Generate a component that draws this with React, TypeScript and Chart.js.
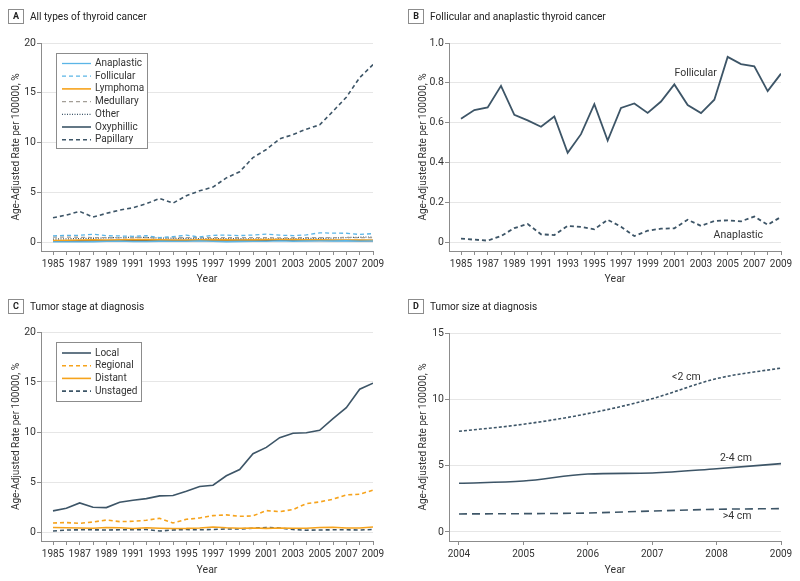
import React, { useEffect, useRef } from 'react';
import { Chart, registerables } from 'chart.js';
Chart.register(...registerables);

// ---------- DATA ----------
const years = [1985, 1986, 1987, 1988, 1989, 1990, 1991, 1992, 1993, 1994, 1995, 1996, 1997, 1998, 1999, 2000, 2001, 2002, 2003, 2004, 2005, 2006, 2007, 2008, 2009];
const yearsD = [2004, 2005, 2006, 2007, 2008, 2009];

// Panel A: all types
const anaplasticA = [0.017, 0.012, 0.007, 0.03, 0.07, 0.091, 0.039, 0.035, 0.081, 0.076, 0.064, 0.112, 0.077, 0.03, 0.057, 0.067, 0.069, 0.112, 0.081, 0.106, 0.109, 0.104, 0.128, 0.087, 0.126];
const follicularA = [0.619, 0.663, 0.676, 0.785, 0.639, 0.611, 0.579, 0.631, 0.448, 0.542, 0.693, 0.51, 0.674, 0.696, 0.649, 0.706, 0.792, 0.688, 0.648, 0.715, 0.93, 0.894, 0.883, 0.758, 0.846];
const lymphomaA = [0.15, 0.18, 0.2, 0.22, 0.2, 0.22, 0.25, 0.24, 0.22, 0.2, 0.2, 0.22, 0.24, 0.22, 0.2, 0.22, 0.24, 0.25, 0.24, 0.22, 0.22, 0.2, 0.2, 0.2, 0.18];
const medullaryA = [0.5, 0.5, 0.48, 0.45, 0.44, 0.42, 0.43, 0.45, 0.4, 0.42, 0.44, 0.43, 0.45, 0.44, 0.43, 0.45, 0.44, 0.42, 0.43, 0.44, 0.45, 0.44, 0.46, 0.44, 0.45];
const otherA = [0.3, 0.32, 0.35, 0.38, 0.42, 0.45, 0.47, 0.46, 0.4, 0.38, 0.36, 0.35, 0.34, 0.33, 0.33, 0.32, 0.32, 0.33, 0.34, 0.35, 0.37, 0.4, 0.45, 0.48, 0.5];
const oxyphillicA = [0.1, 0.1, 0.12, 0.12, 0.13, 0.13, 0.12, 0.13, 0.14, 0.14, 0.15, 0.15, 0.16, 0.16, 0.17, 0.17, 0.18, 0.18, 0.18, 0.17, 0.17, 0.16, 0.15, 0.14, 0.14];
const papillaryA = [2.44, 2.71, 3.08, 2.51, 2.88, 3.21, 3.44, 3.85, 4.38, 3.91, 4.65, 5.15, 5.52, 6.45, 7.06, 8.49, 9.3, 10.37, 10.8, 11.34, 11.77, 13.14, 14.55, 16.52, 17.83];

// Panel B: follicular and anaplastic
const follicularB = follicularA;
const anaplasticB = anaplasticA;

// Panel C: tumor stage
const localC = [2.11, 2.37, 2.91, 2.47, 2.44, 2.98, 3.18, 3.34, 3.61, 3.65, 4.08, 4.55, 4.68, 5.62, 6.25, 7.83, 8.46, 9.43, 9.87, 9.93, 10.17, 11.34, 12.44, 14.28, 14.88];
const regionalC = [0.9, 0.94, 0.87, 1.0, 1.2, 1.04, 1.07, 1.17, 1.37, 0.9, 1.27, 1.4, 1.64, 1.71, 1.57, 1.61, 2.14, 2.04, 2.24, 2.84, 3.01, 3.28, 3.71, 3.78, 4.18];
const distantC = [0.45, 0.42, 0.4, 0.38, 0.45, 0.42, 0.35, 0.42, 0.38, 0.35, 0.36, 0.4, 0.5, 0.42, 0.38, 0.4, 0.36, 0.4, 0.38, 0.38, 0.45, 0.48, 0.4, 0.4, 0.5];
const unstagedC = [0.1, 0.2, 0.22, 0.22, 0.2, 0.22, 0.22, 0.25, 0.1, 0.2, 0.25, 0.22, 0.25, 0.3, 0.3, 0.38, 0.45, 0.4, 0.25, 0.18, 0.2, 0.22, 0.22, 0.2, 0.25];

// Panel D: tumor size
const under2D = [7.59, 8.12, 8.92, 10.05, 11.56, 12.36];
const twoTo4D = [3.67, 3.84, 4.37, 4.45, 4.77, 5.15];
const over4D = [1.36, 1.38, 1.43, 1.58, 1.71, 1.76];

const yTicksA = [0, 5, 10, 15, 20];
const yTicksB = [0, 0.2, 0.4, 0.6, 0.8, 1.0];
const yTicksD = [0, 5, 10, 15];
const xLabelYears = [1985, 1987, 1989, 1991, 1993, 1995, 1997, 1999, 2001, 2003, 2005, 2007, 2009];

// ---------- STYLE ----------
const DARK = '#3d5567';
const LIGHTBLUE = '#5bb5e6';
const ORANGE = '#f6a31c';
const GRAY = '#a39e97';
const TEXT = '#333333';
const FONT = 'Roboto, "Noto Sans", sans-serif';

const boxLegend = {
  id: 'boxLegend',
  afterDraw(chart: any, _args: any, opts: any) {
    if (!opts || !opts.show) return;
    const { ctx, chartArea } = chart;
    const x = Math.round(chartArea.left + opts.dx);
    const y = Math.round(chartArea.top + opts.dy);
    ctx.save();
    ctx.fillStyle = '#ffffff';
    ctx.fillRect(x, y, opts.w, opts.h);
    ctx.strokeStyle = '#8c8c8c';
    ctx.lineWidth = 1;
    ctx.strokeRect(x + 0.5, y + 0.5, opts.w, opts.h);
    chart.data.datasets.forEach((ds: any, i: number) => {
      const cy = y + opts.first + i * opts.row;
      ctx.strokeStyle = ds.borderColor;
      ctx.lineWidth = ds.borderWidth;
      ctx.setLineDash(ds.borderDash || []);
      ctx.beginPath();
      ctx.moveTo(x + 6, cy);
      ctx.lineTo(x + 35, cy);
      ctx.stroke();
      ctx.setLineDash([]);
      ctx.fillStyle = TEXT;
      ctx.font = '10px ' + FONT;
      ctx.textBaseline = 'middle';
      ctx.textAlign = 'left';
      ctx.fillText(ds.label, x + 39, cy);
    });
    ctx.restore();
  },
};

const dataLabels = {
  id: 'dataLabels',
  afterDraw(chart: any, _args: any, opts: any) {
    if (!opts || !opts.items) return;
    const { ctx } = chart;
    const xs = chart.scales.x, ys = chart.scales.y;
    ctx.save();
    ctx.fillStyle = TEXT;
    ctx.font = '10.5px ' + FONT;
    ctx.textAlign = 'center';
    ctx.textBaseline = 'middle';
    opts.items.forEach((it: any) => {
      ctx.fillText(it.text, xs.getPixelForValue(it.x), ys.getPixelForValue(it.y));
    });
    ctx.restore();
  },
};

type PanelCfg = {
  labels: number[];
  datasets: any[];
  xMin: number; xMax: number; xTicks: number[]; xShown: number[];
  yMin: number; yMax: number; yTicks: number[];
  yFmt: (v: number) => string;
  yWidth: number; xHeight: number;
  pad: { top: number; right: number };
  yTitlePad: number;
  legend?: any; labelsOn?: any;
};

function buildConfig(c: PanelCfg): any {
  return {
    type: 'line',
    data: {
      datasets: c.datasets.map((d) => ({
        ...d,
        data: d.values.map((v: number, i: number) => ({ x: c.labels[i], y: v })),
        pointRadius: 0,
        fill: false,
      })),
    },
    options: {
      responsive: false,
      animation: false,
      layout: { padding: { top: c.pad.top, right: c.pad.right, left: 0, bottom: 0 } },
      plugins: {
        legend: { display: false },
        tooltip: { enabled: false },
        boxLegend: c.legend || { show: false },
        dataLabels: c.labelsOn || {},
      },
      scales: {
        x: {
          type: 'linear',
          min: c.xMin,
          max: c.xMax,
          afterBuildTicks: (s: any) => { s.ticks = c.xTicks.map((v) => ({ value: v })); },
          afterFit: (s: any) => { s.height = c.xHeight; },
          grid: { drawOnChartArea: false, drawTicks: true, tickLength: 4, tickColor: '#8c8c8c' },
          border: { color: '#8c8c8c', width: 1 },
          ticks: {
            autoSkip: false,
            maxRotation: 0,
            padding: 3,
            color: TEXT,
            font: { family: FONT, size: 10 },
            callback: (v: number) => (c.xShown.includes(v) ? String(v) : ''),
          },
          title: { display: true, text: 'Year', color: TEXT, font: { family: FONT, size: 10.5 }, padding: { top: 0, bottom: 4 } },
        },
        y: {
          type: 'linear',
          min: c.yMin,
          max: c.yMax,
          afterBuildTicks: (s: any) => { s.ticks = c.yTicks.map((v) => ({ value: v })); },
          afterFit: (s: any) => { s.width = c.yWidth; },
          grid: { color: '#e6e6e6', tickColor: '#8c8c8c', tickLength: 4, drawTicks: true },
          border: { color: '#8c8c8c', width: 1 },
          ticks: {
            padding: 1,
            color: TEXT,
            font: { family: FONT, size: 10.5 },
            callback: (v: number) => c.yFmt(v),
          },
          title: {
            display: true,
            text: 'Age-Adjusted Rate per 100000, %',
            color: TEXT,
            font: { family: FONT, size: 10 },
            padding: { top: c.yTitlePad, bottom: 0 },
          },
        },
      },
    },
    plugins: [boxLegend, dataLabels],
  };
}

function Panel({ cfg, left, top, width, height, letter, title }: any) {
  const ref = useRef<HTMLCanvasElement>(null);
  useEffect(() => {
    if (!ref.current) return;
    const chart = new Chart(ref.current, buildConfig(cfg));
    return () => chart.destroy();
  }, []);
  return (
    <div style={{ position: 'absolute', left, top, width, height }}>
      <canvas ref={ref} width={width} height={height} style={{ position: 'absolute', left: 0, top: 0, width, height }} />
      <div style={{
        position: 'absolute', left: 8, top: 9, width: 14, height: 13, border: '1px solid #8c8c8c',
        fontFamily: FONT, fontWeight: 700, fontSize: 9, lineHeight: '13px', textAlign: 'center', color: '#222',
      }}>{letter}</div>
      <div style={{
        position: 'absolute', left: 30, top: 8, fontFamily: FONT, fontSize: 11.5, lineHeight: '16px', color: '#222',
        whiteSpace: 'nowrap', transform: 'scaleX(0.88)', transformOrigin: 'left center',
      }}>{title}</div>
    </div>
  );
}

const yearFmt = (v: number) => String(v);

const cfgA: PanelCfg = {
  labels: years,
  datasets: [
    { label: 'Anaplastic', values: anaplasticA, borderColor: LIGHTBLUE, borderWidth: 1.3 },
    { label: 'Follicular', values: follicularA, borderColor: LIGHTBLUE, borderWidth: 1.3, borderDash: [4, 3] },
    { label: 'Lymphoma', values: lymphomaA, borderColor: ORANGE, borderWidth: 1.6 },
    { label: 'Medullary', values: medullaryA, borderColor: GRAY, borderWidth: 1.3, borderDash: [4, 3] },
    { label: 'Other', values: otherA, borderColor: DARK, borderWidth: 1.3, borderDash: [1, 1.5] },
    { label: 'Oxyphillic', values: oxyphillicA, borderColor: DARK, borderWidth: 1.6 },
    { label: 'Papillary', values: papillaryA, borderColor: DARK, borderWidth: 1.6, borderDash: [4, 3] },
  ],
  xMin: 1984.1, xMax: 2009, xTicks: years, xShown: xLabelYears,
  yMin: -0.9, yMax: 20, yTicks: yTicksA, yFmt: yearFmt,
  yWidth: 41, xHeight: 39, pad: { top: 43, right: 27 }, yTitlePad: 10,
  legend: { show: true, dx: 15, dy: 10, w: 91, h: 95, first: 10.5, row: 12.7 },
};

const cfgB: PanelCfg = {
  labels: years,
  datasets: [
    { label: 'Follicular', values: follicularB, borderColor: DARK, borderWidth: 1.8 },
    { label: 'Anaplastic', values: anaplasticB, borderColor: DARK, borderWidth: 1.8, borderDash: [4, 3] },
  ],
  xMin: 1984.1, xMax: 2009, xTicks: years, xShown: xLabelYears,
  yMin: -0.045, yMax: 1.0, yTicks: yTicksB, yFmt: (v: number) => (v === 0 ? '0' : v.toFixed(1)),
  yWidth: 49, xHeight: 39, pad: { top: 43, right: 19 }, yTitlePad: 17,
  labelsOn: { items: [{ text: 'Follicular', x: 2002.6, y: 0.845 }, { text: 'Anaplastic', x: 2005.8, y: 0.035 }] },
};

const cfgC: PanelCfg = {
  labels: years,
  datasets: [
    { label: 'Local', values: localC, borderColor: DARK, borderWidth: 1.6 },
    { label: 'Regional', values: regionalC, borderColor: ORANGE, borderWidth: 1.6, borderDash: [4, 3] },
    { label: 'Distant', values: distantC, borderColor: ORANGE, borderWidth: 1.6 },
    { label: 'Unstaged', values: unstagedC, borderColor: DARK, borderWidth: 1.6, borderDash: [4, 3] },
  ],
  xMin: 1984.1, xMax: 2009, xTicks: years, xShown: xLabelYears,
  yMin: -0.9, yMax: 20, yTicks: yTicksA, yFmt: yearFmt,
  yWidth: 41, xHeight: 40, pad: { top: 42, right: 27 }, yTitlePad: 10,
  legend: { show: true, dx: 15, dy: 10, w: 85, h: 59, first: 11, row: 12.7 },
};

const cfgD: PanelCfg = {
  labels: yearsD,
  datasets: [
    { label: '<2 cm', values: under2D, borderColor: DARK, borderWidth: 1.6, borderDash: [3, 2], tension: 0.35, cubicInterpolationMode: 'monotone' },
    { label: '2-4 cm', values: twoTo4D, borderColor: DARK, borderWidth: 1.6, tension: 0.35, cubicInterpolationMode: 'monotone' },
    { label: '>4 cm', values: over4D, borderColor: DARK, borderWidth: 1.6, borderDash: [8, 5], tension: 0.35, cubicInterpolationMode: 'monotone' },
  ],
  xMin: 2003.845, xMax: 2009, xTicks: yearsD, xShown: yearsD,
  yMin: -0.68, yMax: 15, yTicks: yTicksD, yFmt: yearFmt,
  yWidth: 49, xHeight: 40, pad: { top: 43, right: 19 }, yTitlePad: 17,
  labelsOn: { items: [{ text: '<2 cm', x: 2007.53, y: 11.68 }, { text: '2-4 cm', x: 2008.3, y: 5.58 }, { text: '>4 cm', x: 2008.32, y: 1.2 }] },
};

export default function App() {
  return (
    <div style={{ position: 'fixed', left: 0, top: 0, width: 800, height: 581, background: '#fff', overflow: 'hidden' }}>
      <Panel cfg={cfgA} left={0} top={0} width={400} height={290} letter="A" title="All types of thyroid cancer" />
      <Panel cfg={cfgB} left={400} top={0} width={400} height={290} letter="B" title="Follicular and anaplastic thyroid cancer" />
      <Panel cfg={cfgC} left={0} top={290} width={400} height={291} letter="C" title="Tumor stage at diagnosis" />
      <Panel cfg={cfgD} left={400} top={290} width={400} height={291} letter="D" title="Tumor size at diagnosis" />
    </div>
  );
}
